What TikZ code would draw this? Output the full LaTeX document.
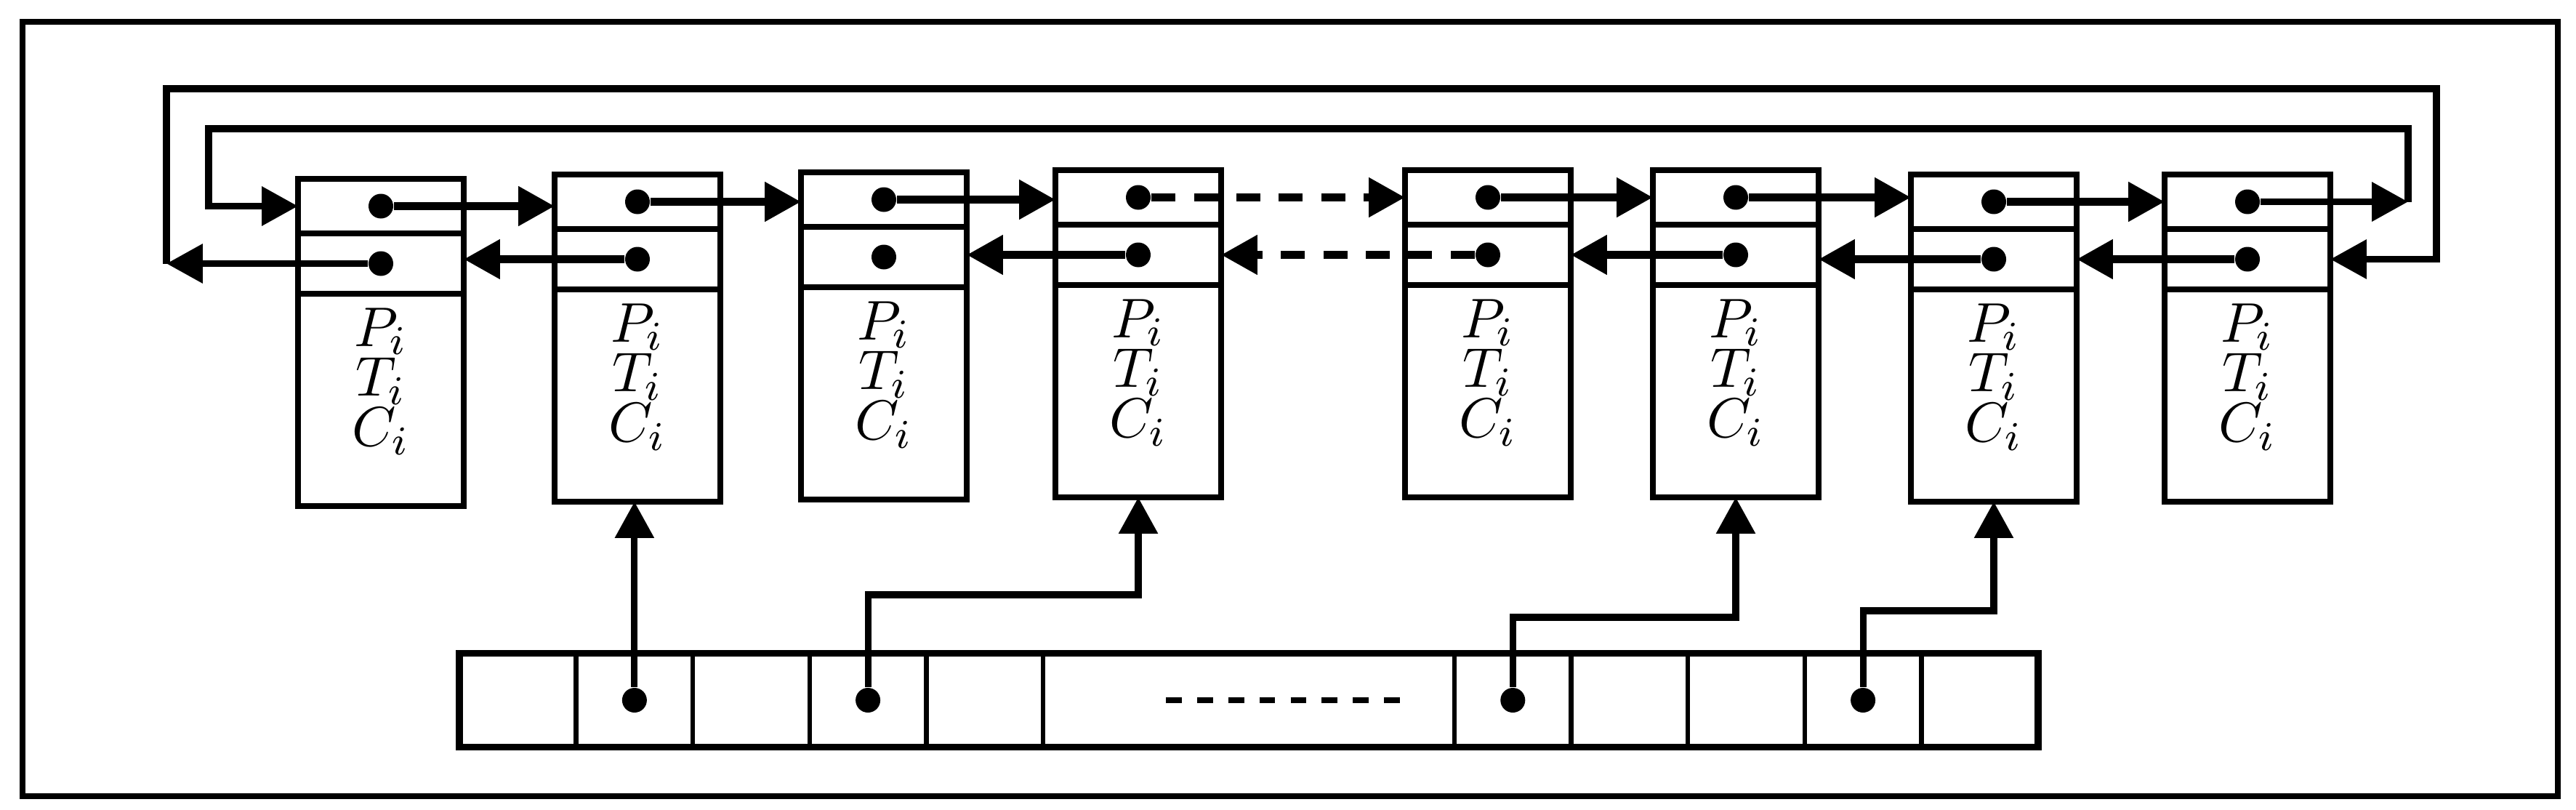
\documentclass[tikz,border=0pt]{standalone}
\usetikzlibrary{positioning, arrows.meta}
\begin{document}
\begin{tikzpicture}

        \tikzstyle{cellnode} = [draw, line width=1.2pt, minimum width=1.14cm, inner sep=0, outer sep=0];
        \tikzstyle{nextcell} = [cellnode, minimum height=0.375cm];
        \tikzstyle{prevcell} = [cellnode, minimum height=0.415cm];
        \tikzstyle{bodycell} = [cellnode, minimum height=1.46cm];
        \tikzstyle{fields} = [align=center, inner sep=0, font={\fontsize{10.95}{9.8}\selectfont\lineskiplimit=-5pt}];
        \tikzstyle{dotnode} = [circle, fill, inner sep=0, minimum size=0.17cm];
        \tikzstyle{slotnode} = [draw, line width=0.9pt, minimum width=0.803cm, minimum height=0.645cm, inner sep=0, outer sep=0];
        \tikzstyle{arrow} = [line width=1.6pt, -{Triangle[length=7.1pt, width=7.4pt]}];
        \tikzstyle{dasharrow} = [arrow, dash pattern=on 4.7pt off 3.6pt];
        \tikzstyle{loopline} = [arrow, line width=1.4pt];
        \tikzstyle{gapline} = [line width=1.1pt, dash pattern=on 3.1pt off 3pt];

        \useasboundingbox (0,0) rectangle (17.72,5.565);
        \draw [line width=1.15pt] (0.155,0.09) rectangle (17.595,5.415);

        % Records
        \node[nextcell, anchor=north] (N1) at (2.62,4.335) {};
        \node[prevcell, below=0pt of N1] (P1) {};
        \node[bodycell, below=0pt of P1] (B1) {};
        \node[fields, below=0.09cm of P1] (F1) {$P_i$\\$T_i$\\$C_i$};
        \node[dotnode] (n1) at (N1) {};
        \node[dotnode] (p1) at (P1) {};

        \node[nextcell, anchor=north] (N2) at (4.385,4.365) {};
        \node[prevcell, below=0pt of N2] (P2) {};
        \node[bodycell, below=0pt of P2] (B2) {};
        \node[fields, below=0.09cm of P2] (F2) {$P_i$\\$T_i$\\$C_i$};
        \node[dotnode] (n2) at (N2) {};
        \node[dotnode] (p2) at (P2) {};

        \node[nextcell, anchor=north] (N3) at (6.08,4.38) {};
        \node[prevcell, below=0pt of N3] (P3) {};
        \node[bodycell, below=0pt of P3] (B3) {};
        \node[fields, below=0.09cm of P3] (F3) {$P_i$\\$T_i$\\$C_i$};
        \node[dotnode] (n3) at (N3) {};
        \node[dotnode] (p3) at (P3) {};

        \node[nextcell, anchor=north] (N4) at (7.83,4.395) {};
        \node[prevcell, below=0pt of N4] (P4) {};
        \node[bodycell, below=0pt of P4] (B4) {};
        \node[fields, below=0.09cm of P4] (F4) {$P_i$\\$T_i$\\$C_i$};
        \node[dotnode] (n4) at (N4) {};
        \node[dotnode] (p4) at (P4) {};

        \node[nextcell, anchor=north] (N5) at (10.235,4.395) {};
        \node[prevcell, below=0pt of N5] (P5) {};
        \node[bodycell, below=0pt of P5] (B5) {};
        \node[fields, below=0.09cm of P5] (F5) {$P_i$\\$T_i$\\$C_i$};
        \node[dotnode] (n5) at (N5) {};
        \node[dotnode] (p5) at (P5) {};

        \node[nextcell, anchor=north] (N6) at (11.94,4.395) {};
        \node[prevcell, below=0pt of N6] (P6) {};
        \node[bodycell, below=0pt of P6] (B6) {};
        \node[fields, below=0.09cm of P6] (F6) {$P_i$\\$T_i$\\$C_i$};
        \node[dotnode] (n6) at (N6) {};
        \node[dotnode] (p6) at (P6) {};

        \node[nextcell, anchor=north] (N7) at (13.715,4.365) {};
        \node[prevcell, below=0pt of N7] (P7) {};
        \node[bodycell, below=0pt of P7] (B7) {};
        \node[fields, below=0.09cm of P7] (F7) {$P_i$\\$T_i$\\$C_i$};
        \node[dotnode] (n7) at (N7) {};
        \node[dotnode] (p7) at (P7) {};

        \node[nextcell, anchor=north] (N8) at (15.46,4.365) {};
        \node[prevcell, below=0pt of N8] (P8) {};
        \node[bodycell, below=0pt of P8] (B8) {};
        \node[fields, below=0.09cm of P8] (F8) {$P_i$\\$T_i$\\$C_i$};
        \node[dotnode] (n8) at (N8) {};
        \node[dotnode] (p8) at (P8) {};
        % Records

        % Next and prev pointers
        \draw [arrow] (n1) -- (n1 -| N2.west);
        \draw [arrow] (n2) -- (n2 -| N3.west);
        \draw [arrow] (n3) -- (n3 -| N4.west);
        \draw [dasharrow] (n4) -- (n4 -| N5.west);
        \draw [arrow] (n5) -- (n5 -| N6.west);
        \draw [arrow] (n6) -- (n6 -| N7.west);
        \draw [arrow] (n7) -- (n7 -| N8.west);

        \draw [arrow] (p2) -- (p2 -| P1.east);
        \draw [arrow] (p4) -- (p4 -| P3.east);
        \draw [dasharrow] (p5) -- (p5 -| P4.east);
        \draw [arrow] (p6) -- (p6 -| P5.east);
        \draw [arrow] (p7) -- (p7 -| P6.east);
        \draw [arrow] (p8) -- (p8 -| P7.east);

        % Wrap-around links
        \coordinate (innerL) at (1.435,4.68);
        \coordinate (innerR) at (16.565,4.68);
        \coordinate (outerL) at (1.145,4.955);
        \coordinate (outerR) at (16.76,4.955);

        \draw [loopline] (n8) -- (n8 -| innerR);
        \draw [loopline] (n8 -| innerR) -- (innerR) -- (innerL) |- (N1.west);
        \draw [loopline] (p1) -- (p1 -| outerL);
        \draw [loopline] (p1 -| outerL) -- (outerL) -- (outerR) |- (P8.east);

        % Index array
        \node[slotnode, anchor=west] (A1) at (3.16,0.75) {};
        \node[slotnode, right=0pt of A1] (A2) {};
        \node[slotnode, right=0pt of A2] (A3) {};
        \node[slotnode, right=0pt of A3] (A4) {};
        \node[slotnode, right=0pt of A4] (A5) {};
        \node[slotnode, right=0pt of A5, minimum width=2.83cm] (A6) {};
        \node[slotnode, right=0pt of A6] (A7) {};
        \node[slotnode, right=0pt of A7] (A8) {};
        \node[slotnode, right=0pt of A8] (A9) {};
        \node[slotnode, right=0pt of A9] (A10) {};
        \node[slotnode, right=0pt of A10] (A11) {};
        \draw [line width=1.4pt] (A1.north west) rectangle (A11.south east);
        \draw [gapline] ([xshift=-0.57cm]A6.center) -- ([xshift=1.04cm]A6.center);

        \node[dotnode] (a2) at (A2) {};
        \node[dotnode] (a4) at (A4) {};
        \node[dotnode] (a7) at (A7) {};
        \node[dotnode] (a10) at (A10) {};

        \draw [arrow, line width=1.3pt] (a2) -- (a2 |- B2.south);
        \draw [arrow, line width=1.3pt] (a4) -- ++(0,0.725) -| (B4.south);
        \draw [arrow, line width=1.3pt] (a7) -- ++(0,0.57) -| (B6.south);
        \draw [arrow, line width=1.3pt] (a10) -- ++(0,0.615) -| (B7.south);
        % Index array

\end{tikzpicture}
\end{document}
